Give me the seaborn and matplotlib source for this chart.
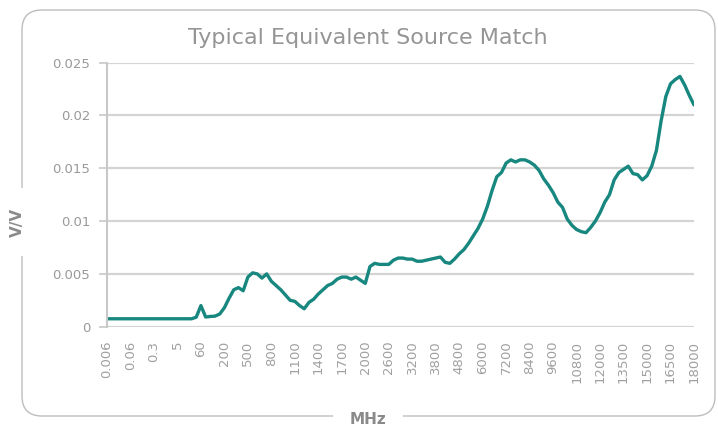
import numpy as np
import pandas as pd
import seaborn as sns
import matplotlib
matplotlib.use("Agg")
import matplotlib.pyplot as plt
from matplotlib.patches import FancyBboxPatch
from matplotlib.transforms import IdentityTransform

# ---- data ----
tick_labels = ["0.006", "0.06", "0.3", "5", "60", "200", "500", "800", "1100", "1400",
               "1700", "2000", "2600", "3200", "3800", "4800", "6000", "7200", "8400",
               "9600", "10800", "12000", "13500", "15000", "16500", "18000"]
points_per_label = 5

source_match = [
    0.00075, 0.00075, 0.00075, 0.00075, 0.00075, 0.00075, 0.00075, 0.00075, 0.00075, 0.00075,
    0.00075, 0.00075, 0.00075, 0.00075, 0.00075, 0.00075, 0.00075, 0.00075, 0.00075, 0.0009,
    0.0020, 0.00092, 0.00097, 0.0010, 0.0012, 0.0018, 0.0027, 0.0035, 0.0037, 0.0034,
    0.0047, 0.0051, 0.0050, 0.0046, 0.0050, 0.0043, 0.0039, 0.0035, 0.0030, 0.0025,
    0.0024, 0.0020, 0.0017, 0.0023, 0.0026, 0.0031, 0.0035, 0.0039, 0.0041, 0.0045,
    0.0047, 0.0047, 0.0045, 0.0047, 0.0044, 0.0041, 0.0057, 0.0060, 0.0059, 0.0059,
    0.0059, 0.0063, 0.0065, 0.0065, 0.0064, 0.0064, 0.0062, 0.0062, 0.0063, 0.0064,
    0.0065, 0.0066, 0.0061, 0.0060, 0.0064, 0.0069, 0.0073, 0.0079, 0.0086, 0.0093,
    0.0102, 0.0114, 0.0129, 0.0142, 0.0146, 0.0155, 0.0158, 0.0156, 0.0158, 0.0158,
    0.0156, 0.0153, 0.0148, 0.0140, 0.0134, 0.0127, 0.0118, 0.0113, 0.0102, 0.0096,
    0.0092, 0.0090, 0.0089, 0.0094, 0.0100, 0.0108, 0.0118, 0.0125, 0.0139, 0.0146,
    0.0149, 0.0152, 0.0145, 0.0144, 0.0139, 0.0143, 0.0152, 0.0167, 0.0195, 0.0218,
    0.0230, 0.0234, 0.0237, 0.0229, 0.0219, 0.0210,
]
y_ticks = [0, 0.005, 0.01, 0.015, 0.02, 0.025]
y_tick_labels = ["0", "0.005", "0.01", "0.015", "0.02", "0.025"]

df = pd.DataFrame({"pos": np.arange(len(source_match)), "value": source_match})

sns.set_theme(style="white")
plt.rcParams["font.family"] = ["DejaVu Sans"]

W, H = 718, 430
fig = plt.figure(figsize=(W / 100, H / 100), dpi=100)
fig.patch.set_facecolor("white")

# rounded frame (pixel coordinates)
frame = FancyBboxPatch((22, H - 416), 715 - 22, 416 - 10,
                       boxstyle="round,pad=0,rounding_size=20",
                       transform=IdentityTransform(), facecolor="none",
                       edgecolor="#bdbdbd", linewidth=1.0)
fig.patches.append(frame)

ax = fig.add_axes([107 / W, 1 - 326.7 / H, (694 - 107) / W, (326.7 - 62.7) / H])
ax.set_facecolor("white")

sns.lineplot(data=df, x="pos", y="value", ax=ax, color="#17877f", linewidth=2.4)

ax.set_xlim(0, len(source_match) - 1)
ax.set_ylim(0, 0.025)
ax.set_yticks(y_ticks)
ax.set_yticklabels(y_tick_labels, color="#999999", fontsize=9.5)
tick_pos = np.arange(len(tick_labels)) * points_per_label
ax.set_xticks(tick_pos)
ax.set_xticklabels(tick_labels, rotation=90, color="#a0a0a0", fontsize=9.5)
ax.tick_params(axis="x", length=0, pad=10)
ax.tick_params(axis="y", length=6, width=1.2, color="#c8c8c8", pad=6, left=True)
ax.grid(axis="y", color="#d4d4d4", linewidth=1.6)
ax.set_axisbelow(True)
for s in ["top", "right", "bottom"]:
    ax.spines[s].set_visible(False)
ax.spines["left"].set_color("#c8c8c8")
ax.spines["left"].set_linewidth(1.5)
ax.set_xlabel("")
ax.set_ylabel("")

fig.text(368 / W, 1 - 38 / H, "Typical Equivalent Source Match", ha="center", va="center",
         fontsize=16, color="#959595", fontweight="normal")
fig.text(368 / W, 1 - 419 / H, "MHz", ha="center", va="center", fontsize=11,
         fontweight="bold", color="#8a8a8a",
         bbox=dict(facecolor="white", edgecolor="none", pad=12))
fig.text(17 / W, 1 - 222 / H, "V/V", ha="center", va="center", rotation=90, fontsize=11,
         fontweight="bold", color="#8a8a8a",
         bbox=dict(facecolor="white", edgecolor="none", pad=14))

fig.savefig("out.png", dpi=100, facecolor="white")
